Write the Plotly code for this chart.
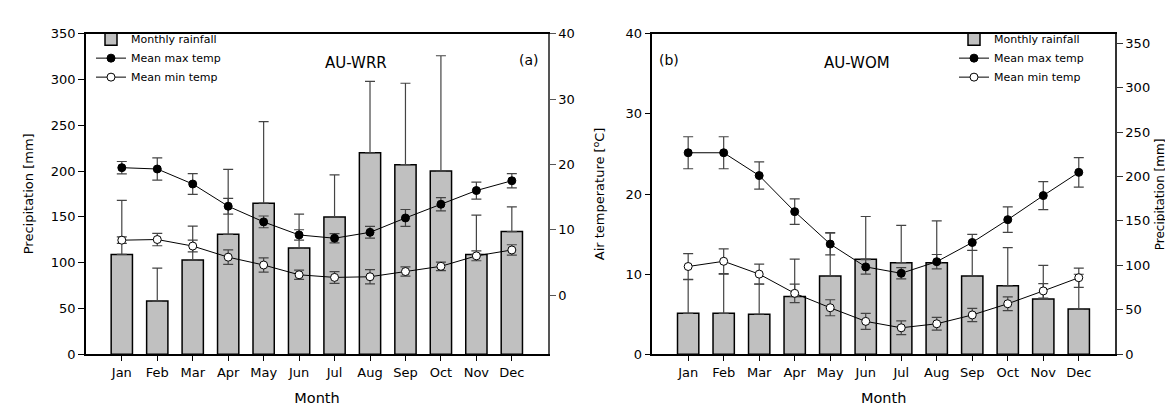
import plotly.graph_objects as go

months = ["Jan", "Feb", "Mar", "Apr", "May", "Jun", "Jul", "Aug", "Sep", "Oct", "Nov", "Dec"]

# Panel (a) AU-WRR
wrr_rain = [109, 58, 103, 131, 165, 116, 150, 220, 207, 200, 109, 134]
wrr_rain_err = [59, 36, 37, 71, 89, 37, 46, 78, 89, 126, 43, 27]
wrr_tmax = [19.5, 19.3, 17.0, 13.6, 11.2, 9.2, 8.7, 9.6, 11.8, 13.9, 16.0, 17.5]
wrr_tmax_sd = [0.95, 1.7, 1.6, 1.2, 0.9, 0.8, 0.7, 0.9, 1.3, 1.0, 1.3, 1.1]
wrr_tmin = [8.4, 8.5, 7.5, 5.8, 4.6, 3.1, 2.7, 2.8, 3.6, 4.4, 6.0, 6.9]
wrr_tmin_sd = [0.5, 0.95, 0.9, 1.1, 1.1, 0.7, 0.9, 1.1, 0.7, 0.65, 0.75, 0.8]

# Panel (b) AU-WOM
wom_rain = [46, 46, 45, 65, 88, 107, 103, 103, 88, 77, 62, 51]
wom_rain_err = [38, 44, 34, 42, 49, 48, 42, 47, 29, 43, 38, 39]
wom_tmax = [25.15, 25.15, 22.3, 17.8, 13.75, 10.9, 10.1, 11.55, 13.95, 16.8, 19.8, 22.7]
wom_tmax_sd = [2.0, 2.0, 1.7, 1.6, 1.35, 0.9, 0.7, 0.9, 1.0, 1.6, 1.75, 1.85]
wom_tmin = [10.95, 11.6, 10.0, 7.6, 5.8, 4.1, 3.3, 3.8, 4.9, 6.3, 7.9, 9.55]
wom_tmin_sd = [1.6, 1.55, 1.25, 1.15, 1.0, 1.0, 0.85, 0.8, 0.83, 0.87, 0.9, 1.2]

FONT = "DejaVu Sans"
ERRC = "#444444"
W, H = 1173, 413

fig = go.Figure()


def add_panel(xa, ya_rain, ya_temp, rain, rain_err, tmax, tmax_sd, tmin, tmin_sd, legend):
    fig.add_trace(go.Bar(
        x=months, y=rain, xaxis=xa, yaxis=ya_rain, width=0.6,
        marker=dict(color="#c0c0c0", line=dict(color="black", width=1.5)),
        error_y=dict(type="data", symmetric=False, array=rain_err,
                     arrayminus=[0] * len(rain), color=ERRC, thickness=1.2, width=5),
        name="Monthly rainfall", legend=legend,
    ))
    fig.add_trace(go.Scatter(
        x=months, y=tmax, xaxis=xa, yaxis=ya_temp, mode="lines+markers",
        line=dict(color="black", width=1),
        marker=dict(color="black", size=8, line=dict(color="black", width=1)),
        error_y=dict(type="data", array=tmax_sd, color=ERRC, thickness=1.2, width=5),
        name="Mean max temp", legend=legend,
    ))
    fig.add_trace(go.Scatter(
        x=months, y=tmin, xaxis=xa, yaxis=ya_temp, mode="lines+markers",
        line=dict(color="black", width=1),
        marker=dict(color="white", size=8, line=dict(color="black", width=1)),
        error_y=dict(type="data", array=tmin_sd, color=ERRC, thickness=1.2, width=5),
        name="Mean min temp", legend=legend,
    ))


add_panel("x", "y", "y2", wrr_rain, wrr_rain_err, wrr_tmax, wrr_tmax_sd,
          wrr_tmin, wrr_tmin_sd, "legend")
add_panel("x2", "y3", "y4", wom_rain, wom_rain_err, wom_tmax, wom_tmax_sd,
          wom_tmin, wom_tmin_sd, "legend2")

dom_a = [78 / W, 540 / W]
dom_b = [644.3 / W, 1107 / W]
ydom = [61 / H, 393.5 / H]

tickfont = dict(family=FONT, size=13, color="black")
xtitlefont = dict(family=FONT, size=14.5, color="black")

xcommon = dict(
    type="category", range=[-1.01, 12.02], showline=True, linecolor="black", linewidth=1.5,
    mirror=True, ticks="outside", ticklen=5, tickcolor="black", tickfont=tickfont,
    showgrid=False, zeroline=False, fixedrange=True,
)
ycommon = dict(
    showline=True, linewidth=1.5, ticks="outside", ticklen=6, tickfont=tickfont,
    showgrid=False, zeroline=False,
)

ycen = 1 - 186 / H


def ytitle(text, xpx, size=13):
    return dict(text=text, x=xpx / W, y=ycen, xref="paper", yref="paper", showarrow=False,
                textangle=-90, xanchor="center", yanchor="middle",
                font=dict(family=FONT, size=size, color="black"))


fig.update_layout(
    width=W, height=H, margin=dict(l=0, r=0, t=0, b=0),
    paper_bgcolor="white", plot_bgcolor="white",
    font=dict(family=FONT, color="black"),
    showlegend=True,
    xaxis=dict(domain=dom_a, anchor="y", title=dict(text="Month", font=xtitlefont, standoff=14), **xcommon),
    xaxis2=dict(domain=dom_b, anchor="y3", title=dict(text="Month", font=xtitlefont, standoff=14), **xcommon),
    yaxis=dict(domain=ydom, anchor="x", side="left", range=[0, 350], tickvals=[0, 50, 100, 150, 200, 250, 300, 350],
               linecolor="black", tickcolor="black", **ycommon),
    yaxis2=dict(anchor="x", overlaying="y", side="right", range=[-9.06, 40], tickvals=[0, 10, 20, 30, 40],
                linecolor="#555555", tickcolor="#555555", **ycommon),
    yaxis3=dict(domain=ydom, anchor="x2", side="right", range=[0, 360.6], tickvals=[0, 50, 100, 150, 200, 250, 300, 350],
                linecolor="#333333", tickcolor="#333333", **ycommon),
    yaxis4=dict(anchor="x2", overlaying="y3", side="left", range=[0, 40], tickvals=[0, 10, 20, 30, 40],
                linecolor="black", tickcolor="black", **ycommon),
    legend=dict(x=83 / W, y=1 - 10 / H, xanchor="left", yanchor="top", bgcolor="rgba(0,0,0,0)",
                font=dict(family=FONT, size=11, color="black"), itemwidth=30, tracegroupgap=0,
                traceorder="normal"),
    legend2=dict(x=946 / W, y=1 - 10 / H, xanchor="left", yanchor="top", bgcolor="rgba(0,0,0,0)",
                 font=dict(family=FONT, size=11, color="black"), itemwidth=30, tracegroupgap=0,
                 traceorder="normal"),
    annotations=[
        dict(text="AU-WRR", x=315 / W, y=1 - 38 / H, xref="paper", yref="paper", showarrow=False,
             font=dict(family=FONT, size=15, color="black")),
        dict(text="(a)", x=521 / W, y=1 - 36 / H, xref="paper", yref="paper", showarrow=False,
             font=dict(family=FONT, size=14, color="black")),
        dict(text="(b)", x=661 / W, y=1 - 36 / H, xref="paper", yref="paper", showarrow=False,
             font=dict(family=FONT, size=14, color="black")),
        dict(text="AU-WOM", x=884 / W, y=1 - 38 / H, xref="paper", yref="paper", showarrow=False,
             font=dict(family=FONT, size=15, color="black")),
        ytitle("Precipitation [mm]", 20),
        ytitle("Air temperature [<sup>o</sup>C]", 591),
        ytitle("Precipitation [mm]", 1152, 12),
    ],
)

fig.write_html("out.html")
